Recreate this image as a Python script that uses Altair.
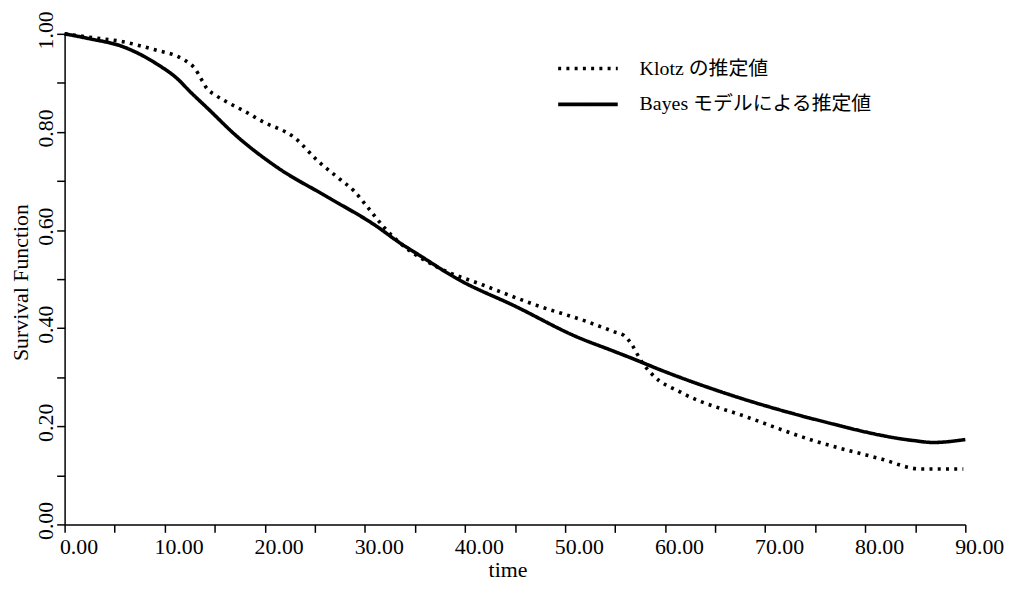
import altair as alt
import pandas as pd

series_names = ["Klotz の推定値", "Bayes モデルによる推定値"]

klotz_t = [0, 2.5, 5.8, 9.1, 11.4, 12.1, 13.1, 13.7, 14.2, 15.0, 16.4, 18.0, 19.7,
           23.0, 25.3, 27.3, 28.9, 30.3, 31.9, 33.6, 37.2, 41.8, 47.1, 52.1, 55.0,
           55.9, 56.7, 57.5, 58.7, 61.6, 68.3, 74.8, 81.5, 85.5, 89.8]
klotz_s = [1.0, 0.993, 0.984, 0.967, 0.953, 0.945, 0.927, 0.906, 0.889, 0.876, 0.859,
           0.842, 0.822, 0.788, 0.741, 0.707, 0.680, 0.646, 0.606, 0.572, 0.525, 0.488,
           0.447, 0.414, 0.392, 0.385, 0.366, 0.337, 0.306, 0.269, 0.218, 0.171, 0.134,
           0.113, 0.113]

bayes_t = [0, 2.5, 5.8, 9.1, 11.4, 12.4, 14.4, 17.0, 21.3, 26.3, 31.3, 33.2, 35.5,
           39.2, 45.1, 51.1, 55.0, 57.0, 59.4, 64.9, 74.8, 84.8, 86.8, 90.0]
bayes_s = [1.0, 0.990, 0.974, 0.940, 0.906, 0.885, 0.846, 0.795, 0.727, 0.667, 0.606,
           0.578, 0.548, 0.501, 0.444, 0.383, 0.352, 0.336, 0.316, 0.275, 0.215, 0.171,
           0.167, 0.173]

x_ticks = list(range(0, 91, 5))
y_ticks = [i / 10 for i in range(11)]

rows = []
for t, s in zip(klotz_t, klotz_s):
    rows.append({"series": series_names[0], "t": t, "s": s})
for t, s in zip(bayes_t, bayes_s):
    rows.append({"series": series_names[1], "t": t, "s": s})
df = pd.DataFrame(rows)

SERIF = "Liberation Serif, Noto Sans CJK JP"

chart = (
    alt.Chart(df)
    .mark_line(interpolate="monotone", color="black", strokeWidth=3.6)
    .encode(
        x=alt.X(
            "t:Q",
            scale=alt.Scale(domain=[0, 90], nice=False, zero=False),
            axis=alt.Axis(
                values=x_ticks,
                labelExpr="datum.value % 10 == 0 ? format(datum.value, '.2f') : ''",
                tickSize=8, tickWidth=1.5, domainWidth=1.5,
                labelFontSize=22, labelFont=SERIF, labelColor="black",
                labelOffset=14, labelPadding=4, labelFlush=False, labelOverlap=False,
                labelBound=False,
                title="time", titleFont=SERIF, titleFontSize=22,
                titleFontWeight="normal", titleColor="black",
                titleX=446, titleY=52, titleBaseline="alphabetic", titleAlign="center",
            ),
        ),
        y=alt.Y(
            "s:Q",
            scale=alt.Scale(domain=[0, 1], nice=False),
            axis=alt.Axis(
                values=y_ticks,
                labelExpr="round(datum.value * 10) % 2 == 0 ? format(datum.value, '.2f') : ''",
                labelAngle=270, labelAlign="center", labelBaseline="alphabetic",
                labelPadding=4, tickSize=8, tickWidth=1.5, domainWidth=1.5,
                labelFontSize=22, labelFont=SERIF, labelColor="black",
                labelOffset=-4, labelFlush=False, labelOverlap=False, labelBound=False,
                title="Survival Function", titleFont=SERIF, titleFontSize=22,
                titleFontWeight="normal", titleColor="black",
                titleAngle=270, titleX=-37, titleY=250, titleAlign="center",
                titleBaseline="alphabetic",
            ),
        ),
        strokeDash=alt.StrokeDash(
            "series:N",
            scale=alt.Scale(domain=series_names, range=[[3, 5.3], [1, 0]]),
            legend=alt.Legend(
                title=None, orient="none", legendX=515, legendY=23,
                direction="vertical", symbolType="M-3,0H3", symbolSize=400,
                symbolStrokeWidth=3.6, symbolStrokeColor="black",
                labelFont=SERIF, labelFontSize=20, labelColor="black",
                labelOffset=40, labelLimit=400, rowPadding=14, padding=0,
            ),
        ),
    )
    .properties(
        width=907, height=494,
        autosize=alt.AutoSizeParams(type="none"),
        padding={"left": 57, "top": 24, "right": 46, "bottom": 58},
    )
    .configure_view(stroke=None)
    .configure_axis(grid=False, domainColor="black", tickColor="black")
)

chart.save("out.html", embed_options={"renderer": "svg", "actions": False})
